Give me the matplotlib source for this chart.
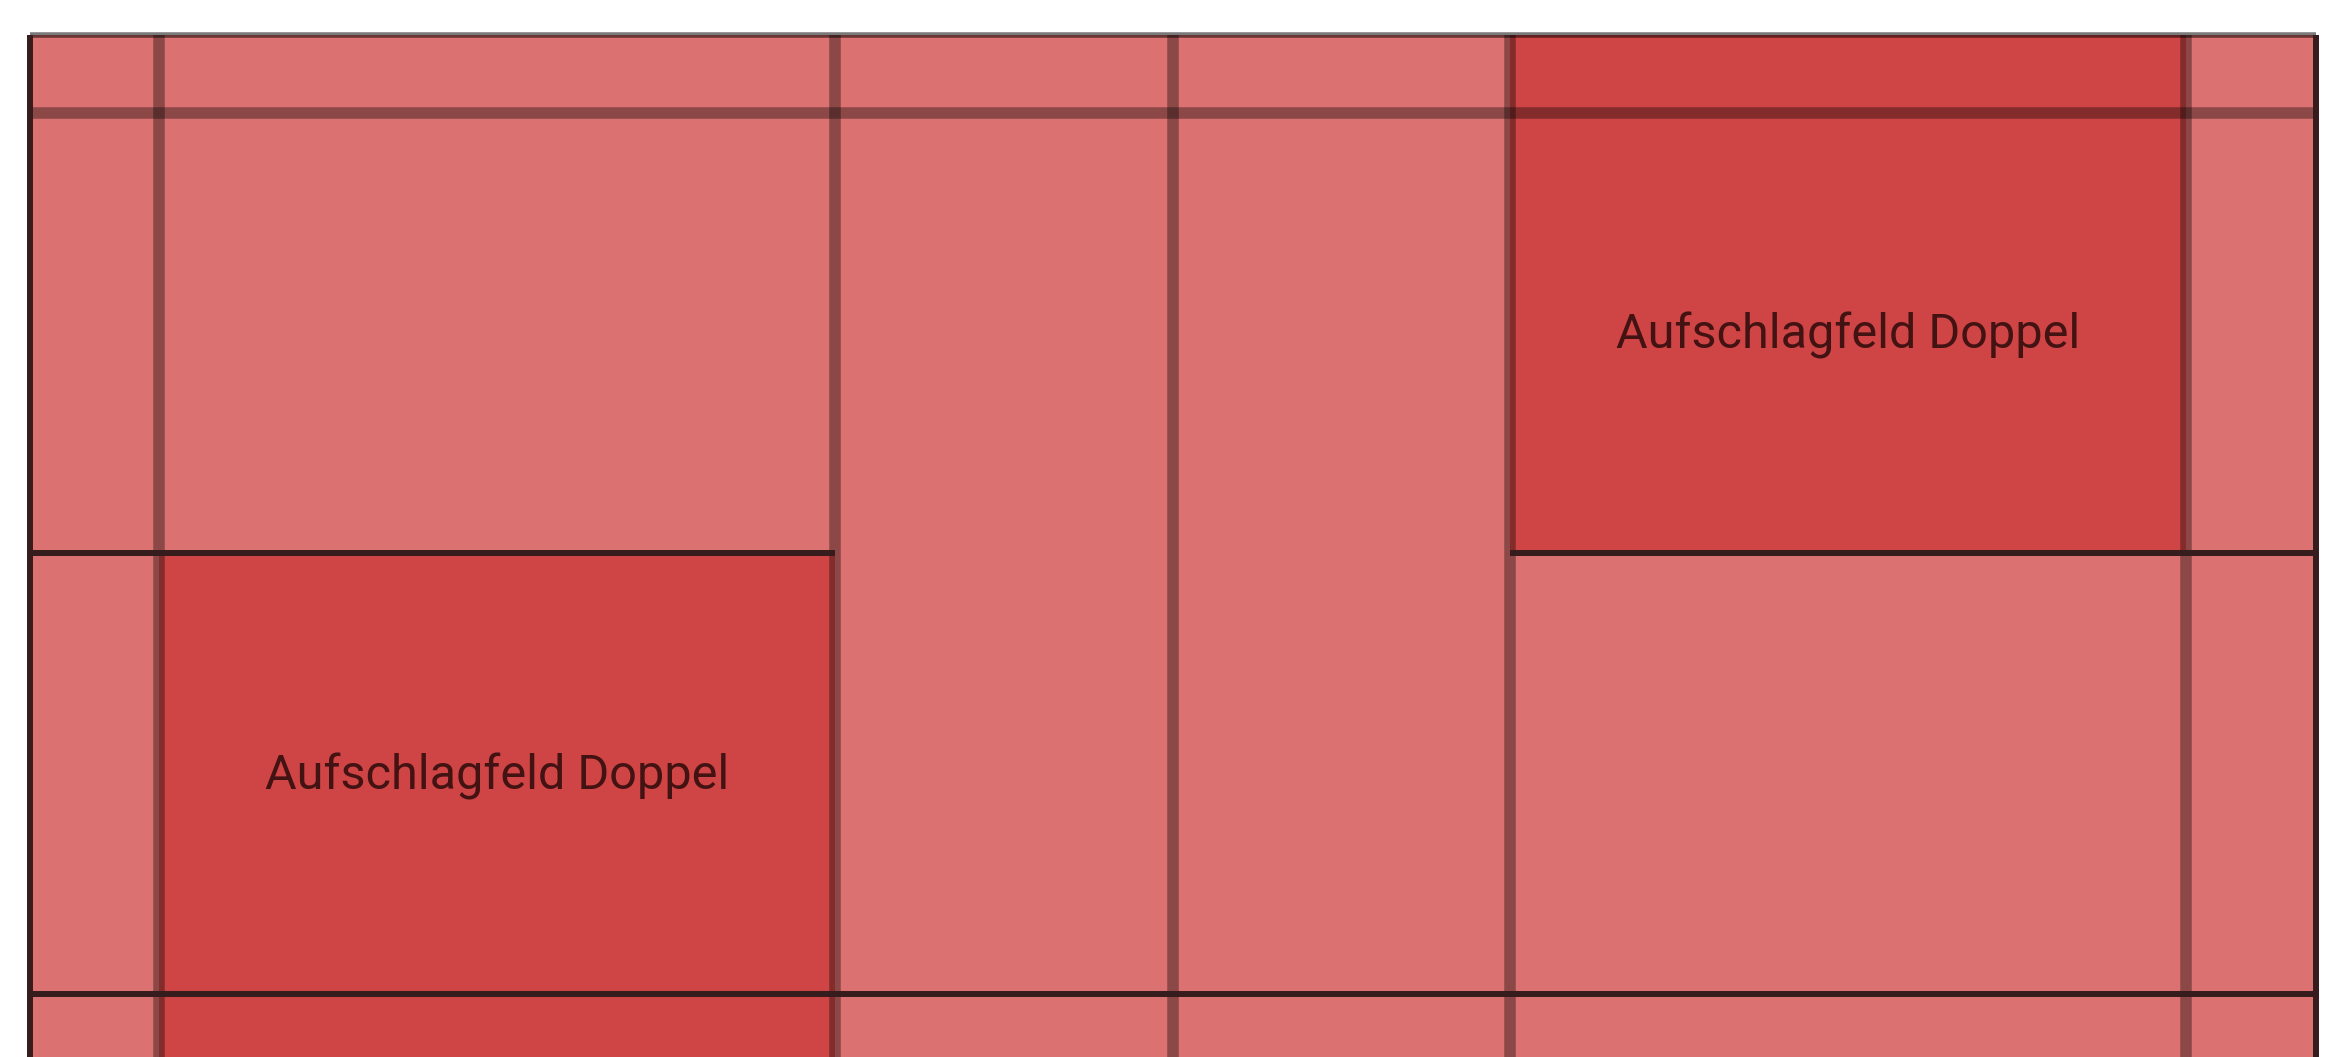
import matplotlib
matplotlib.use("Agg")
import matplotlib.pyplot as plt
from matplotlib.patches import Rectangle

# badminton court, dimensions in metres
court_length = 13.40
court_width = 6.10
# lines across the length (long service doubles, short service, net, ...)
cross_lines_x = [0.76, 4.72, 6.70, 8.68, 12.64]
# side lines (singles) and centre line
singles_top_y = 5.64
singles_bottom_y = 0.46
center_y = 3.05
center_segments = [(0.0, 4.72), (8.68, 13.40)]

# doubles service fields: x0, x1, y0, y1, label centre y (singles part)
field_x0 = [0.76, 8.68]
field_x1 = [4.72, 12.64]
field_y0 = [0.0, 3.05]
field_y1 = [3.05, 6.10]
label_y = [1.74, 4.335]
field_label = "Aufschlagfeld Doppel"

LIGHT = "#DB7170"
DARK = "#CF4444"
LINE_DARK = "#361c1c"

fig = plt.figure(figsize=(23.26, 10.57), dpi=100)
ax = fig.add_axes([0, 0, 1, 1])
ax.set_xlim(-0.173, 13.461)
ax.set_ylim(0.088, 6.306)
ax.axis("off")

# court surface
ax.add_patch(Rectangle((0, 0), court_length, court_width, fc=LIGHT, ec="none", zorder=1))

# service fields
for x0, x1, y0, y1, ly in zip(field_x0, field_x1, field_y0, field_y1, label_y):
    ax.add_patch(Rectangle((x0, y0), x1 - x0, y1 - y0, fc=DARK, ec="none", zorder=2))
    ax.text((x0 + x1) / 2, ly, field_label, ha="center", va="center",
            fontsize=35, family="Roboto", color="#431212", zorder=6)

# translucent court lines
for x in cross_lines_x:
    ax.plot([x, x], [0, court_width], color="black", alpha=0.36, lw=8.3,
            solid_capstyle="butt", zorder=3)
ax.plot([0, court_length], [singles_top_y, singles_top_y], color="black", alpha=0.36,
        lw=8.3, solid_capstyle="butt", zorder=3)
ax.plot([0, court_length], [court_width, court_width], color="black", alpha=0.52,
        lw=4.0, solid_capstyle="butt", zorder=4)

# dark lines
for xa, xb in center_segments:
    ax.plot([xa, xb], [center_y, center_y], color=LINE_DARK, lw=4.3,
            solid_capstyle="butt", zorder=5)
ax.plot([0, court_length], [singles_bottom_y, singles_bottom_y], color=LINE_DARK,
        lw=4.3, solid_capstyle="butt", zorder=5)
for x in [0, court_length]:
    ax.plot([x, x], [0, court_width], color=LINE_DARK, lw=4.3,
            solid_capstyle="butt", zorder=5)

fig.savefig("out.png", dpi=100, facecolor="white")
